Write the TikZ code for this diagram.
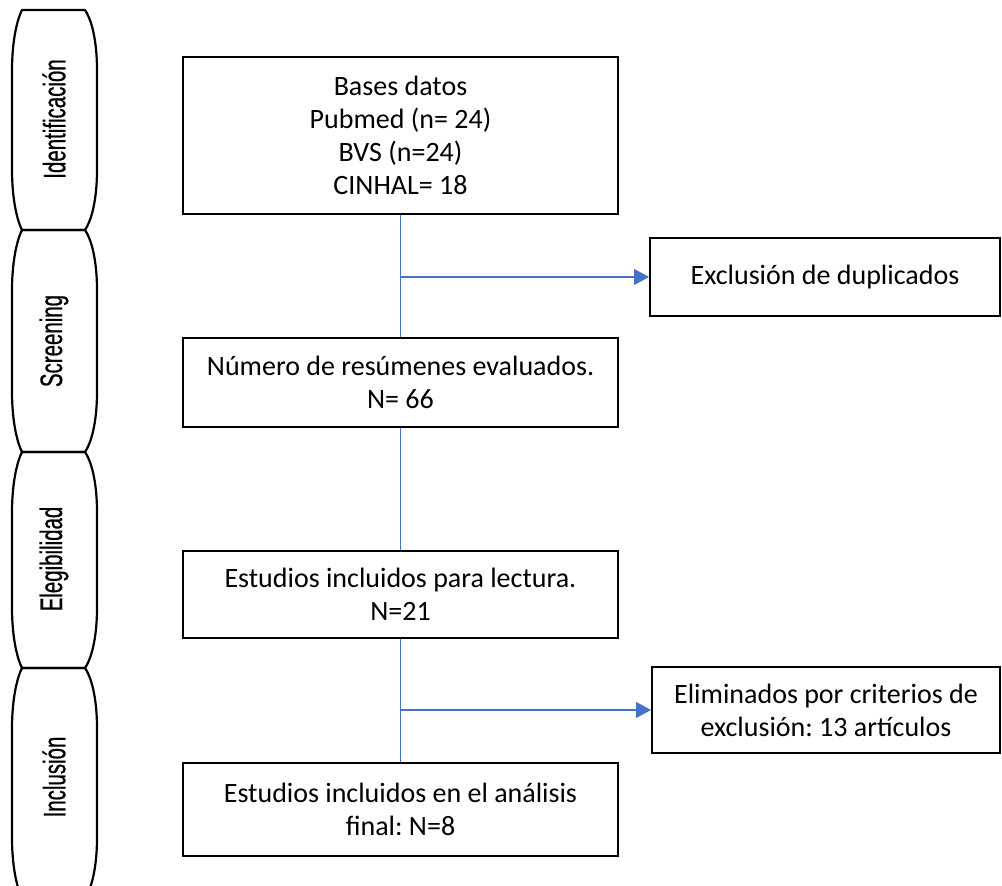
\documentclass[tikz,border=0pt]{standalone}
\usepackage{fontspec}
\setmainfont{Carlito}
\newfontfamily\condfont[FakeStretch=0.66,FakeBold=0.6]{Liberation Sans}
\usetikzlibrary{arrows.meta}
\definecolor{lineblue}{HTML}{4472C4}
\tikzset{
  box/.style={draw=black, line width=2pt, fill=white, align=center, inner sep=0pt,
    font=\fontsize{28}{33}\selectfont\frenchspacing},
  conn/.style={draw=lineblue, line width=1.3pt},
  arr/.style={conn, -{Triangle[length=15pt,width=16pt]}},
  phase/.style={draw=black, line width=2.2pt, line join=round},
  phaselabel/.style={rotate=90, font=\condfont\fontsize{31}{36}\selectfont}
}
\begin{document}
\begin{tikzpicture}[x=1pt,y=-1pt]
\clip (0,0) rectangle (1002,886);
\fill[white] (0,0) rectangle (1002,886);
% phase shapes
\foreach \ya/\yb in {10/230, 230/452, 452/668, 668/898}{
  \draw[phase] (22,\ya) -- (85,\ya)
    .. controls (93,{\ya+12}) and (97,{\ya+35}) .. (97,{\ya+60})
    -- (97,{\yb-60})
    .. controls (97,{\yb-35}) and (93,{\yb-12}) .. (85,\yb)
    -- (22,\yb)
    .. controls (16,{\yb-12}) and (12,{\yb-35}) .. (12,{\yb-60})
    -- (12,{\ya+60})
    .. controls (12,{\ya+35}) and (16,{\ya+12}) .. (22,\ya) -- cycle;
}
\node[phaselabel] (p1) at (54,119) {Identificación};
\node[phaselabel] (p2) at (54,341) {Screening};
\node[phaselabel] (p3) at (54,559) {Elegibilidad};
\node[phaselabel] (p4) at (54,777) {Inclusión};
% main boxes
\node[box, minimum width=435pt, minimum height=157pt] (b1) at (400.5,135.5)
  {Bases datos\\Pubmed (n= 24)\\BVS (n=24)\\CINHAL= 18};
\node[box, minimum width=435pt, minimum height=89pt] (b2) at (400.5,382.5)
  {Número de resúmenes evaluados.\\N= 66};
\node[box, minimum width=435pt, minimum height=87pt] (b3) at (400.5,594.5)
  {Estudios incluidos para lectura.\\N=21};
\node[box, minimum width=435pt, minimum height=93pt] (b4) at (400.5,809.5)
  {Estudios incluidos en el análisis\\final: N=8};
\node[box, minimum width=350pt, minimum height=78pt] (ex) at (825,277)
  {\raisebox{4pt}{Exclusión de duplicados}};
\node[box, minimum width=348pt, minimum height=86pt] (el) at (826,710)
  {Eliminados por criterios de\\exclusión: 13 artículos};
% connectors
\draw[conn] (b1.south) -- (b2.north);
\draw[conn] (b2.south) -- (b3.north);
\draw[conn] (b3.south) -- (b4.north);
\coordinate (j1) at (b1.south |- ex.west);
\coordinate (j2) at (b3.south |- el.west);
\draw[arr] (j1) -- (ex.west);
\draw[arr] (j2) -- (el.west);
\end{tikzpicture}
\end{document}
